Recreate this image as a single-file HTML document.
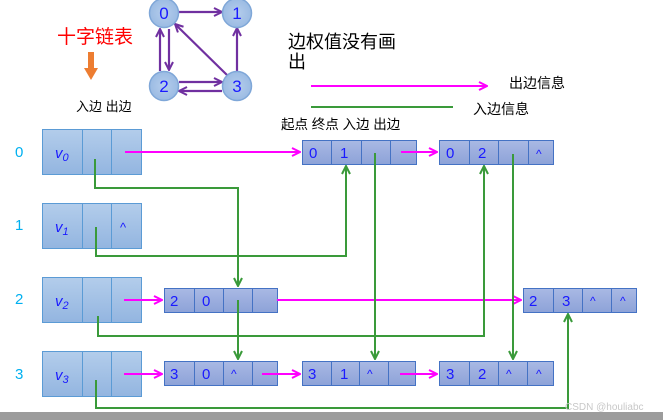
<!DOCTYPE html>
<html><head><meta charset="utf-8"><style>
html,body{margin:0;padding:0;background:#fff;width:663px;height:420px;overflow:hidden}
svg{display:block}
text{font-family:"Liberation Sans","Noto Sans CJK SC",sans-serif}
</style></head><body>
<svg width="663" height="420" viewBox="0 0 663 420" xmlns="http://www.w3.org/2000/svg">
<defs>
<linearGradient id="vg" x1="0" y1="0" x2="0" y2="1"><stop offset="0" stop-color="#b3cdeb"/><stop offset="1" stop-color="#93b5e0"/></linearGradient>
<linearGradient id="ng" x1="0" y1="0" x2="0" y2="1"><stop offset="0" stop-color="#a9b9e4"/><stop offset="1" stop-color="#8da2d8"/></linearGradient>
<radialGradient id="cg"><stop offset="0" stop-color="#b5cdec"/><stop offset="1" stop-color="#9bbbe3"/></radialGradient>
<marker id="pm" markerWidth="10" markerHeight="10" refX="9" refY="5" orient="auto" markerUnits="userSpaceOnUse"><path d="M1,1 L9,5 L1,9" fill="none" stroke="#ff00ff" stroke-width="2"/></marker>
<marker id="gm" markerWidth="10" markerHeight="10" refX="9" refY="5" orient="auto" markerUnits="userSpaceOnUse"><path d="M1,1 L9,5 L1,9" fill="none" stroke="#3a9a3a" stroke-width="2"/></marker>
<marker id="vm" markerWidth="10" markerHeight="10" refX="9" refY="5" orient="auto" markerUnits="userSpaceOnUse"><path d="M1,1 L9,5 L1,9" fill="none" stroke="#7030a0" stroke-width="2"/></marker>
</defs>

<!-- graph -->
<g stroke="#7030a0" stroke-width="2.2" fill="none">
<line x1="179" y1="12" x2="222" y2="12" marker-end="url(#vm)"/>
<line x1="237" y1="71" x2="237" y2="28" marker-end="url(#vm)"/>
<line x1="160" y1="71" x2="160" y2="29" marker-end="url(#vm)"/>
<line x1="169" y1="29" x2="169" y2="70" marker-end="url(#vm)"/>
<line x1="227" y1="75" x2="175" y2="24" marker-end="url(#vm)"/>
<line x1="179" y1="82" x2="222" y2="82" marker-end="url(#vm)"/>
<line x1="222" y1="91" x2="179" y2="91" marker-end="url(#vm)"/>
</g>
<g fill="url(#cg)" stroke="#7fa7d8" stroke-width="1.5">
<circle cx="164" cy="13" r="14.5"/><circle cx="237" cy="13" r="14.5"/>
<circle cx="164" cy="86" r="14.5"/><circle cx="237" cy="86" r="14.5"/>
</g>
<g fill="#1a1aff" font-size="17" text-anchor="middle">
<text x="164" y="19">0</text><text x="237" y="19">1</text><text x="164" y="92">2</text><text x="237" y="92">3</text>
</g>

<text x="57" y="43" font-size="19" fill="#ff0000">十字链表</text>
<rect x="88" y="52" width="6" height="18" fill="#ed7d31"/>
<path d="M84,68 L98,68 L91,80 Z" fill="#ed7d31"/>
<text x="76" y="111" font-size="13" fill="#000">入边 出边</text>

<text x="288" y="48" font-size="18" fill="#000">边权值没有画</text>
<text x="288" y="68" font-size="18" fill="#000">出</text>
<line x1="311" y1="86" x2="487" y2="86" stroke="#ff00ff" stroke-width="2" marker-end="url(#pm)"/>
<text x="509" y="88" font-size="14" fill="#000">出边信息</text>
<line x1="311" y1="107" x2="453" y2="107" stroke="#3a9a3a" stroke-width="2"/>
<text x="473" y="114" font-size="14" fill="#000">入边信息</text>
<text x="281" y="129" font-size="13.5" fill="#000">起点 终点 入边 出边</text>

<!-- row labels -->
<g fill="#00b0f0" font-size="15">
<text x="15" y="157">0</text><text x="15" y="230">1</text><text x="15" y="304">2</text><text x="15" y="379">3</text>
</g>

<!-- vertex boxes -->
<g fill="url(#vg)" stroke="#5b9bd5" stroke-width="1">
<rect x="42.5" y="129.5" width="99" height="45"/><line x1="82.5" y1="129.5" x2="82.5" y2="174.5"/><line x1="111.5" y1="129.5" x2="111.5" y2="174.5"/>
<rect x="42.5" y="203.5" width="99" height="45"/><line x1="82.5" y1="203.5" x2="82.5" y2="248.5"/><line x1="111.5" y1="203.5" x2="111.5" y2="248.5"/>
<rect x="42.5" y="277.5" width="99" height="45"/><line x1="82.5" y1="277.5" x2="82.5" y2="322.5"/><line x1="111.5" y1="277.5" x2="111.5" y2="322.5"/>
<rect x="42.5" y="351.5" width="99" height="45"/><line x1="82.5" y1="351.5" x2="82.5" y2="396.5"/><line x1="111.5" y1="351.5" x2="111.5" y2="396.5"/>
</g>
<g fill="#1a1aff" font-size="15" font-style="italic">
<text x="55" y="158">v<tspan font-size="11" dy="3">0</tspan></text>
<text x="55" y="232">v<tspan font-size="11" dy="3">1</tspan></text>
<text x="55" y="306">v<tspan font-size="11" dy="3">2</tspan></text>
<text x="55" y="380">v<tspan font-size="11" dy="3">3</tspan></text>
</g>
<text x="120" y="232" font-size="13" fill="#1a1aff">^</text>

<!-- edge nodes -->
<g fill="url(#ng)" stroke="#4472c4" stroke-width="1">
<rect x="302.5" y="140.5" width="114" height="24"/><line x1="331.5" y1="140.5" x2="331.5" y2="164.5"/><line x1="361.5" y1="140.5" x2="361.5" y2="164.5"/><line x1="390.5" y1="140.5" x2="390.5" y2="164.5"/>
<rect x="439.5" y="140.5" width="114" height="24"/><line x1="469.5" y1="140.5" x2="469.5" y2="164.5"/><line x1="498.5" y1="140.5" x2="498.5" y2="164.5"/><line x1="528.5" y1="140.5" x2="528.5" y2="164.5"/>
<rect x="164.5" y="288.5" width="113" height="24"/><line x1="194.5" y1="288.5" x2="194.5" y2="312.5"/><line x1="223.5" y1="288.5" x2="223.5" y2="312.5"/><line x1="252.5" y1="288.5" x2="252.5" y2="312.5"/>
<rect x="523.5" y="288.5" width="113" height="24"/><line x1="553.5" y1="288.5" x2="553.5" y2="312.5"/><line x1="582.5" y1="288.5" x2="582.5" y2="312.5"/><line x1="611.5" y1="288.5" x2="611.5" y2="312.5"/>
<rect x="164.5" y="361.5" width="113" height="24"/><line x1="194.5" y1="361.5" x2="194.5" y2="385.5"/><line x1="223.5" y1="361.5" x2="223.5" y2="385.5"/><line x1="252.5" y1="361.5" x2="252.5" y2="385.5"/>
<rect x="302.5" y="361.5" width="113" height="24"/><line x1="331.5" y1="361.5" x2="331.5" y2="385.5"/><line x1="359.5" y1="361.5" x2="359.5" y2="385.5"/><line x1="388.5" y1="361.5" x2="388.5" y2="385.5"/>
<rect x="439.5" y="361.5" width="114" height="24"/><line x1="469.5" y1="361.5" x2="469.5" y2="385.5"/><line x1="498.5" y1="361.5" x2="498.5" y2="385.5"/><line x1="527.5" y1="361.5" x2="527.5" y2="385.5"/>
</g>
<g fill="#1a1aff" font-size="15">
<text x="309" y="158">0</text><text x="340" y="158">1</text>
<text x="446" y="158">0</text><text x="478" y="158">2</text><text x="536" y="158" font-size="12">^</text>
<text x="170" y="306">2</text><text x="202" y="306">0</text>
<text x="529" y="306">2</text><text x="562" y="306">3</text><text x="590" y="305" font-size="12">^</text><text x="620" y="305" font-size="12">^</text>
<text x="170" y="379">3</text><text x="202" y="379">0</text><text x="231" y="378" font-size="12">^</text>
<text x="308" y="379">3</text><text x="340" y="379">1</text><text x="367" y="378" font-size="12">^</text>
<text x="446" y="379">3</text><text x="478" y="379">2</text><text x="506" y="378" font-size="12">^</text><text x="536" y="378" font-size="12">^</text>
</g>

<!-- magenta out-edges -->
<g stroke="#ff00ff" stroke-width="2" fill="none">
<line x1="125" y1="152" x2="300" y2="152" marker-end="url(#pm)"/>
<line x1="401" y1="152" x2="437" y2="152" marker-end="url(#pm)"/>
<line x1="124" y1="300" x2="162" y2="300" marker-end="url(#pm)"/>
<line x1="277" y1="300" x2="521" y2="300" marker-end="url(#pm)"/>
<line x1="124" y1="374" x2="162" y2="374" marker-end="url(#pm)"/>
<line x1="262" y1="374" x2="300" y2="374" marker-end="url(#pm)"/>
<line x1="400" y1="374" x2="437" y2="374" marker-end="url(#pm)"/>
</g>

<!-- green in-edges -->
<g stroke="#3a9a3a" stroke-width="2" fill="none">
<polyline points="95,159 95,188 238,188 238,286" marker-end="url(#gm)"/>
<polyline points="96,227 96,256 346,256 346,166" marker-end="url(#gm)"/>
<polyline points="375,153 375,359" marker-end="url(#gm)"/>
<polyline points="513,154 513,359" marker-end="url(#gm)"/>
<polyline points="98,316 98,336 484,336 484,166" marker-end="url(#gm)"/>
<polyline points="238,300 238,359" marker-end="url(#gm)"/>
<polyline points="96,380 96,408 568,408 568,314" marker-end="url(#gm)"/>
</g>

<text x="565" y="410" font-size="10" fill="#c8c8c8">CSDN @houliabc</text>
<rect x="0" y="412" width="663" height="8" fill="#9c9c9c"/>
</svg>
</body></html>
